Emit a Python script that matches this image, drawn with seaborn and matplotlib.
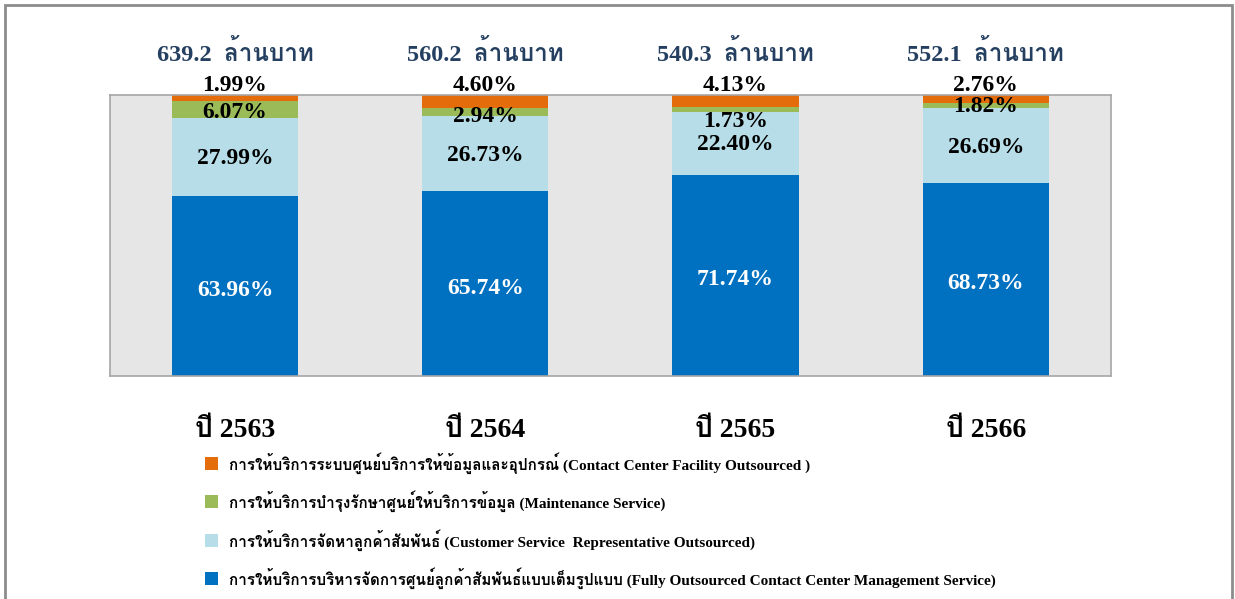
import matplotlib
matplotlib.use("Agg")
import matplotlib.pyplot as plt
import seaborn as sns
import pandas as pd
from matplotlib import font_manager
from matplotlib.ft2font import FT2Font
from matplotlib.patches import Rectangle

years = ["ปี 2563", "ปี 2564", "ปี 2565", "ปี 2566"]
totals = ["639.2  ล้านบาท", "560.2  ล้านบาท", "540.3  ล้านบาท", "552.1  ล้านบาท"]

full_outsourced = [63.96, 65.74, 71.74, 68.73]
customer_rep = [27.99, 26.73, 22.40, 26.69]
maintenance = [6.07, 2.94, 1.73, 1.82]
facility = [1.99, 4.60, 4.13, 2.76]

series_names = [
    "การให้บริการบริหารจัดการศูนย์ลูกค้าสัมพันธ์แบบเต็มรูปแบบ (Fully Outsourced Contact Center Management Service)",
    "การให้บริการจัดหาลูกค้าสัมพันธ์ (Customer Service  Representative Outsourced)",
    "การให้บริการบำรุงรักษาศูนย์ให้บริการข้อมูล (Maintenance Service)",
    "การให้บริการระบบศูนย์บริการให้ข้อมูลและอุปกรณ์ (Contact Center Facility Outsourced )",
]
colors = ["#0070C0", "#B7DEE8", "#9BBB59", "#E46C0A"]


def find_thai_font():
    names = []
    for f in font_manager.fontManager.ttflist:
        try:
            if 0x0E01 in FT2Font(f.fname).get_charmap():
                names.append(f.name)
        except Exception:
            pass
    return names[0] if names else "DejaVu Sans"


thai = find_thai_font()
fam = ["Liberation Serif", thai, "DejaVu Sans"]

sns.set_theme(style="white")
plt.rcParams["font.family"] = fam

fig = plt.figure(figsize=(12.35, 5.99), dpi=100)
ax = fig.add_axes([0.089, 0.372, 0.8105, 0.469])
ax.set_facecolor("#E6E6E6")

df = pd.DataFrame({"year": years, "a": full_outsourced, "b": customer_rep,
                   "c": maintenance, "d": facility})
stack = [df["a"], df["b"], df["c"], df["d"]]
bottom = pd.Series([0.0] * len(years))
for vals, col in zip(stack, colors):
    sns.barplot(x=df["year"], y=vals, bottom=bottom, color=col, width=0.505,
                saturation=1, ax=ax, linewidth=0)
    bottom = bottom + vals

ax.set_ylim(0, 100)
ax.set_xlim(-0.5, 3.5)
ax.set_yticks([])
ax.set_xlabel("")
ax.set_ylabel("")
ax.tick_params(axis="x", length=0, pad=30)
ax.set_xticks(range(len(years)))
ax.set_xticklabels(years, fontsize=20, fontweight="bold", color="black")
for s in ax.spines.values():
    s.set_color("#A6A6A6")
    s.set_linewidth(1.2)

# segment labels
green_shift = [-1.0, -1.5, -4.5, -0.5]
for i in range(len(years)):
    a, b, c, d = full_outsourced[i], customer_rep[i], maintenance[i], facility[i]
    ax.text(i, a / 2 - 1.5, f"{a:.2f}%", ha="center", va="center", color="white",
            fontsize=17, fontweight="bold")
    ax.text(i, a + b / 2 - 0.5, f"{b:.2f}%", ha="center", va="center", color="black",
            fontsize=17, fontweight="bold")
    ax.text(i, a + b + c / 2 + green_shift[i], f"{c:.2f}%", ha="center", va="center",
            color="black", fontsize=17, fontweight="bold")
    ax.text(i, 99.8, f"{d:.2f}%", ha="center", va="bottom", color="black",
            fontsize=17, fontweight="bold")
    ax.text(i, 110.5, totals[i], ha="center", va="bottom", color="#243F60",
            fontsize=17.5, fontweight="bold")

# legend
for k in range(4):
    idx = 3 - k
    y = 1 - (463 + k * 38.5) / 599
    fig.patches.append(Rectangle((205 / 1235, y - 6.5 / 599), 13 / 1235, 13 / 599,
                                 transform=fig.transFigure, facecolor=colors[idx],
                                 edgecolor="none"))
    fig.text(229 / 1235, y, series_names[idx], ha="left", va="center",
             fontsize=11, fontweight="bold", color="black")

# outer frame
fig.patches.append(Rectangle((5 / 1235, -0.01), 1227 / 1235, 1 - 5 / 599 + 0.01,
                             transform=fig.transFigure, fill=False,
                             edgecolor="#8C8C8C", linewidth=2))

fig.savefig("out.png", dpi=100)
